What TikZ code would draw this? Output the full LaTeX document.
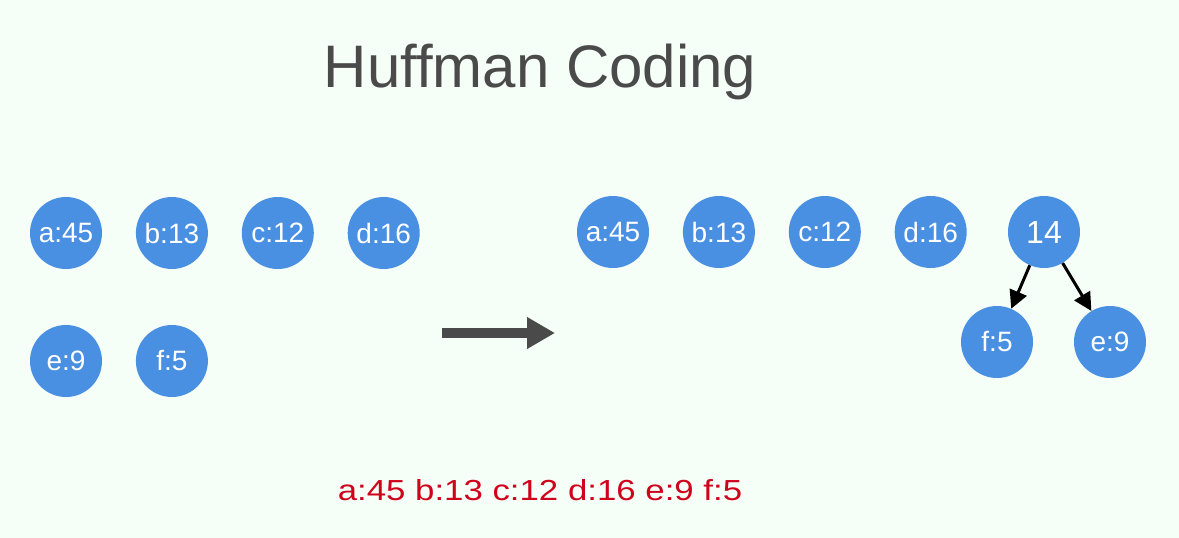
\documentclass[tikz,border=0pt]{standalone}
\usepackage{fontspec}
\setmainfont{Liberation Sans}
\usepackage{tikz}
\usepackage{graphicx}
\usetikzlibrary{arrows.meta,positioning}
\definecolor{hfmblue}{HTML}{4A90E2}
\definecolor{hfmred}{HTML}{D0021B}
\definecolor{hfmgray}{HTML}{4A4A4A}
\definecolor{hfmback}{HTML}{F5FEF7}
\tikzset{
 keynode/.style = {align=center, inner sep=0pt, text centered,
    font=\fontsize{28}{31}\selectfont},
  hfm_n/.style = {keynode, circle, white, fill=hfmblue,
    minimum size=72pt},% feuille, poids
  hfm_r/.style = {hfm_n, font=\fontsize{32}{35}\selectfont},% racine fusionnee
  hfm_t/.style = {inner sep=0pt, anchor=base, text=hfmgray,
    font=\fontsize{60}{66}\selectfont},% titre
  hfm_l/.style = {inner sep=0pt, anchor=base, text=hfmred,
    font=\fontsize{29}{32}\selectfont}% liste des poids
}

\begin{document}
\begin{tikzpicture}[x=1pt,y=-1pt,node distance=33.5pt,
  edge_s/.style={->,>={Triangle[length=18pt,width=18pt]},line width=3pt,black},
  edge_b/.style={->,>={Triangle[length=28pt,width=30pt]},line width=10pt,hfmgray}]
  \fill[hfmback] (0,0) rectangle (1179,538);
  \useasboundingbox (0,0) rectangle (1179,538);
  \node [hfm_t] (title) at (540,87) {Huffman Coding};
  % avant
  \node [hfm_n] (a0) at (66,233) {a:45};
  \node [hfm_n, right=of a0] (b0) {b:13};
  \node [hfm_n, right=of b0] (c0) {c:12};
  \node [hfm_n, right=of c0] (d0) {d:16};
  \node [hfm_n] (e0) at (66,361) {e:9};
  \node [hfm_n, right=of e0] (f0) {f:5};
  % fleche
  \coordinate (go_s) at (442,333);
  \coordinate (go_e) at (555,333);
  \draw [edge_b] (go_s) -- (go_e);
  % apres
  \node [hfm_n] (a1) at (613,232) {a:45};
  \node [hfm_n, right=of a1] (b1) {b:13};
  \node [hfm_n, right=of b1] (c1) {c:12};
  \node [hfm_n, right=of c1] (d1) {d:16};
  \node [hfm_r] (n14) at (1044,232) {14};
  \node [hfm_n] (f1) at (997,342) {f:5};
  \node [hfm_n] (e1) at (1110,342) {e:9};
  \draw [edge_s] (n14) -- (f1);
  \draw [edge_s] (n14) -- (e1);
  \node [hfm_l] (list) at (540,500) {\scalebox{1.2}[1]{a:45 b:13 c:12 d:16 e:9 f:5}};
\end{tikzpicture}
\end{document}
